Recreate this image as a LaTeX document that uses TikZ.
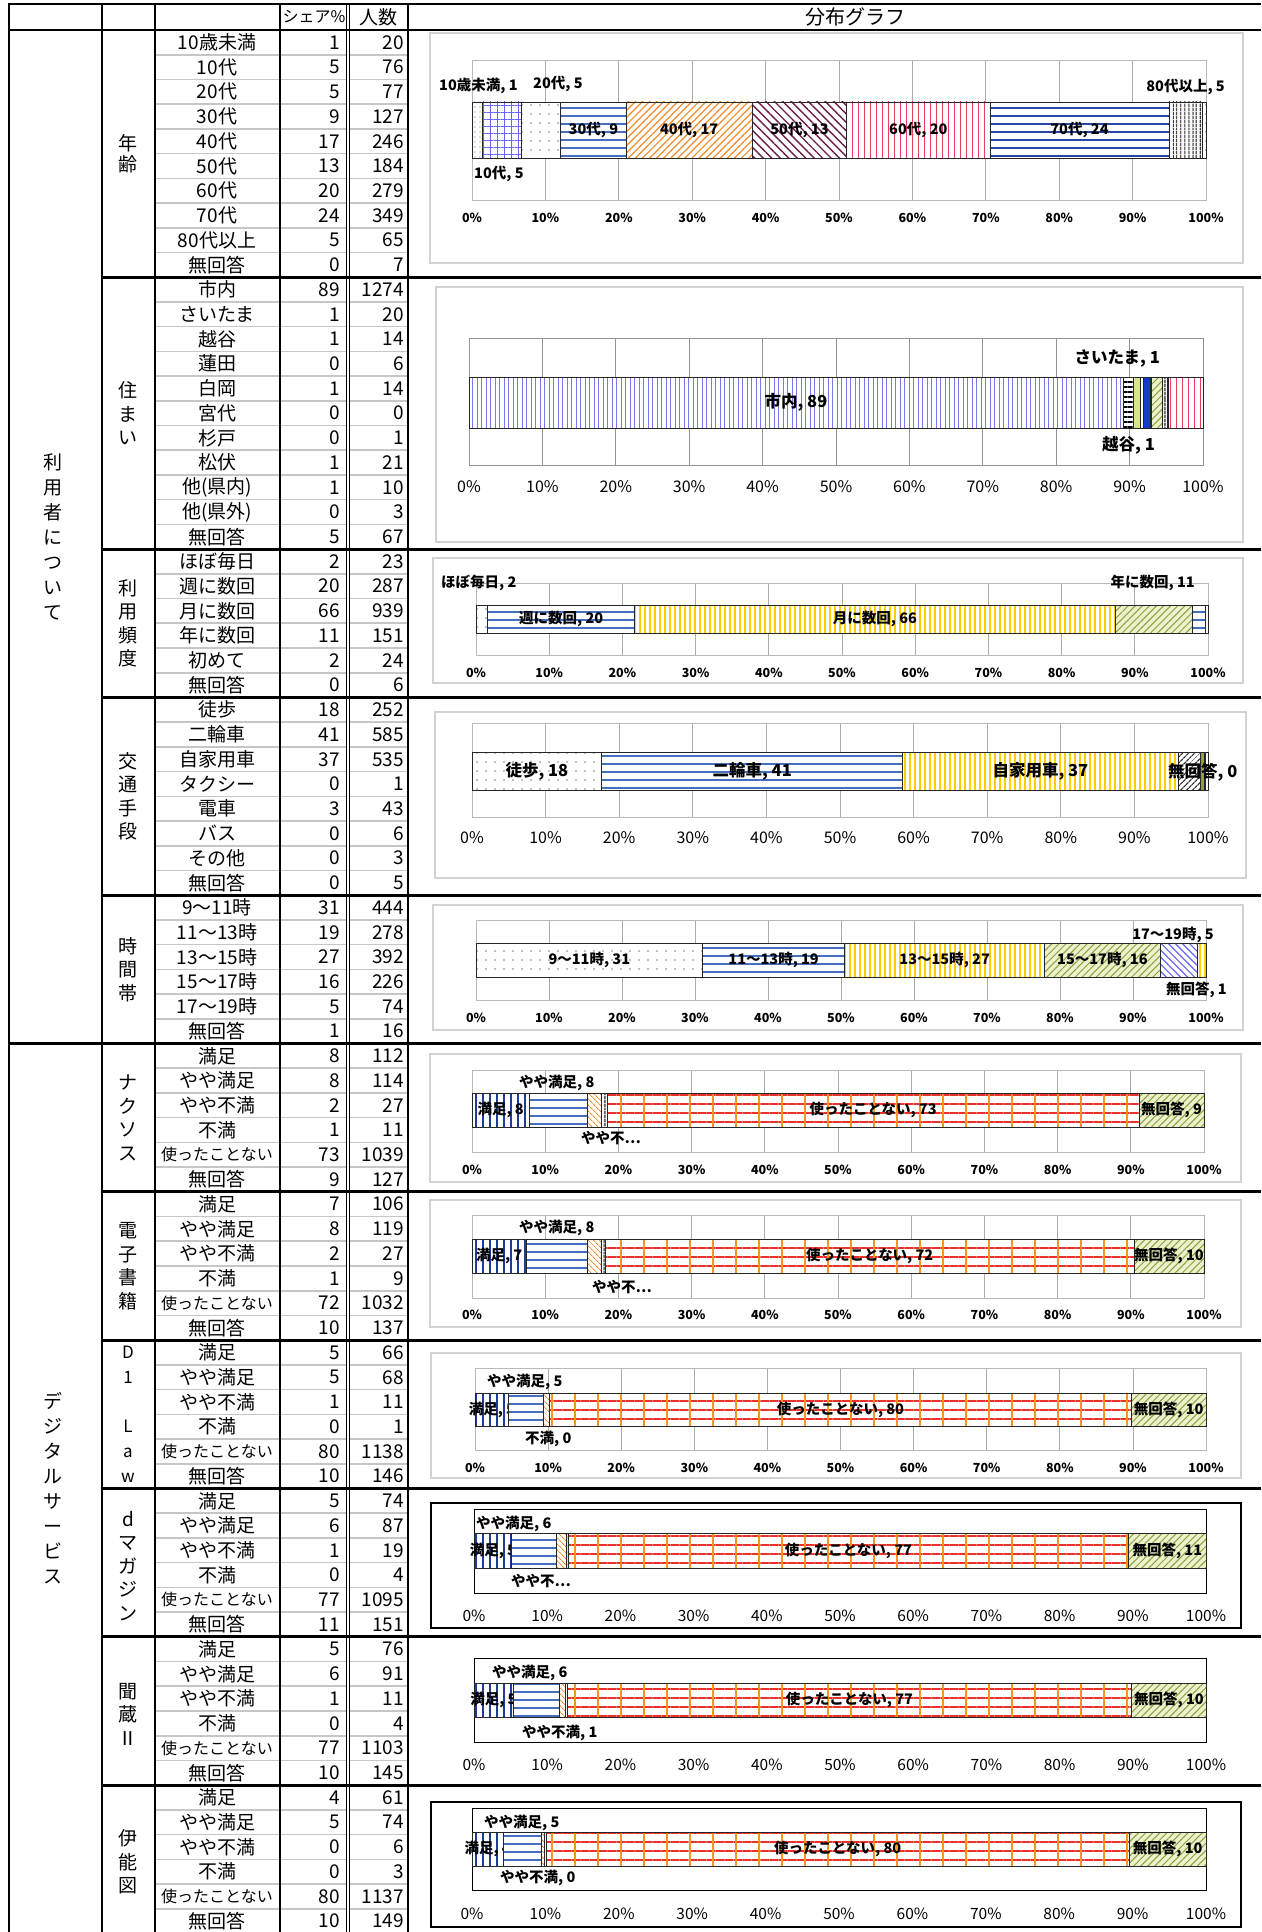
\documentclass[tikz,border=0pt]{standalone}
\usepackage{fontspec}
\newfontfamily\jp{Noto Sans CJK JP}
\usetikzlibrary{patterns.meta}

\definecolor{stripeblue}{RGB}{70,110,190}
\definecolor{deepblue}{RGB}{40,70,160}
\definecolor{navyline}{RGB}{30,60,150}
\definecolor{violetline}{RGB}{120,120,230}
\definecolor{roseline}{RGB}{235,60,90}
\definecolor{maroonline}{RGB}{110,30,70}
\definecolor{orangeline}{RGB}{240,140,40}
\definecolor{yellowline}{RGB}{255,205,0}
\definecolor{oliveline}{RGB}{140,160,60}
\definecolor{olivepale}{RGB}{236,240,205}
\definecolor{limepale}{RGB}{215,230,140}
\definecolor{solidblue}{RGB}{20,60,200}
\definecolor{gridred}{RGB}{235,50,40}
\definecolor{gridorange}{RGB}{250,150,30}

\newcommand{\squeezed}{\fontsize{16}{16}\selectfont}

\tikzset{
  rowline/.style={draw=gray!45, line width=1.6pt},
  thinline/.style={draw=black, line width=1.4pt},
  colline/.style={draw=black, line width=2.2pt},
  doubleline/.style={draw=black, double=white, double distance=1.4pt, line width=0.9pt},
  thickline/.style={draw=black, line width=2.8pt},
  celltext/.style={font=\jp\fontsize{19}{19}\selectfont, inner sep=0pt},
  numtext/.style={celltext, anchor=east},
  vlabel/.style={font=\jp\fontsize{19}{23.5}\selectfont, align=center, inner sep=0pt},
  light box/.style={draw=gray!35, line width=1.2pt},
  black box/.style={draw=black, line width=1.2pt},
  light grid/.style={draw=gray!65, line width=0.8pt},
  light frame/.style={draw=gray!55, line width=0.8pt},
  dark grid/.style={draw=gray!85, line width=0.9pt},
  dark frame/.style={draw=gray!85, line width=0.9pt},
  black grid/.style={draw=none},
  black frame/.style={draw=black, line width=1pt},
  tick small/.style={font=\jp\bfseries\fontsize{12.5}{12.5}\selectfont, inner sep=0pt},
  tick big/.style={font=\jp\fontsize{16}{16}\selectfont, inner sep=0pt},
  tick plain/.style={font=\jp\fontsize{15.5}{15.5}\selectfont, inner sep=0pt},
  bar small/.style={font=\jp\bfseries\fontsize{14.5}{14.5}\selectfont, inner sep=0pt},
  bar big/.style={font=\jp\bfseries\fontsize{16.5}{16.5}\selectfont, inner sep=0pt},
  % segment fills
  segline/.style={draw=black!85, line width=0.7pt, preaction={fill=white}},
  snone/.style={},
  sdots/.style={pattern={Dots[distance=9pt,radius=0.8pt]}, pattern color=gray},
  sbluedots/.style={pattern={Dots[distance=5pt,radius=0.7pt]}, pattern color=stripeblue},
  sbluegrid/.style={pattern={Hatch[distance=7pt,line width=0.7pt]}, pattern color=blue!60},
  sblueh/.style={pattern={Lines[angle=0,distance=8pt,line width=2pt]}, pattern color=stripeblue},
  sdeeph/.style={pattern={Lines[angle=0,distance=8pt,line width=2.6pt]}, pattern color=deepblue},
  sorange/.style={pattern={Lines[angle=45,distance=5pt,line width=1.2pt]}, pattern color=orangeline},
  smaroon/.style={pattern={Lines[angle=-45,distance=6pt,line width=1.4pt]}, pattern color=maroonline},
  srosev/.style={pattern={Lines[angle=90,distance=6pt,line width=1pt]}, pattern color=roseline},
  sblackv/.style={pattern={Lines[angle=90,distance=4pt,line width=1.2pt]}, pattern color=black},
  sviolet/.style={pattern={Lines[angle=90,distance=4.5pt,line width=0.8pt]}, pattern color=violetline},
  sbrick/.style={pattern={Lines[angle=0,distance=5pt,line width=1.5pt]}, pattern color=black},
  slime/.style={fill=limepale},
  ssolid/.style={fill=solidblue},
  sgreend/.style={preaction={fill=olivepale}, pattern={Lines[angle=45,distance=5pt,line width=1pt]}, pattern color=oliveline},
  sgreenv/.style={fill=oliveline},
  syellowv/.style={pattern={Lines[angle=90,distance=5pt,line width=1.5pt]}, pattern color=yellowline},
  sblackd/.style={pattern={Lines[angle=45,distance=4pt,line width=1.2pt]}, pattern color=black!80},
  sbluenw/.style={pattern={Lines[angle=-45,distance=5pt,line width=1.2pt]}, pattern color=blue!60},
  snavyv/.style={pattern={Lines[angle=90,distance=7pt,line width=1.5pt]}, pattern color=navyline},
  sorangenw/.style={pattern={Lines[angle=-45,distance=4pt,line width=1pt]}, pattern color=orangeline},
  snever/.style={preaction={pattern={Lines[angle=0,distance=9pt,line width=1.2pt]}, pattern color=gridred},
    pattern={Lines[angle=90,distance=23pt,line width=1.8pt]}, pattern color=gridorange},
}

% #1 left, #2 right, #3 top, #4 bottom, #5 tick y, #6 tick style, #7 grid set, #8 name
\newcommand{\plotarea}[8]{%
  \foreach \p in {1,...,9}
    \draw[#7 grid] ({#1+(#2-#1)*\p/10},#3) -- ({#1+(#2-#1)*\p/10},#4);
  \draw[#7 frame] (#1,#3) rectangle (#2,#4);
  \foreach \p in {0,...,10}{
    \pgfmathtruncatemacro{\pc}{10*\p}
    \node[#6] (#8-t\pc) at ({#1+(#2-#1)*\p/10},#5) {\pc\%};
  }
}

% #1 left, #2 right, #3 top, #4 bottom, #5 label style, #6 name, #7 from/to/fill/label
\newcommand{\stackbar}[7]{%
  \foreach \from/\upto/\fillsty/\seglab [count=\i] in {#7}{
    \draw[segline,\fillsty] ({#1+(#2-#1)*\from},#3) rectangle ({#1+(#2-#1)*\upto},#4);
    \node[#5] (#6-s\i) at ({#1+(#2-#1)*(\from+\upto)/2},{(#3+#4)/2}) {\seglab};
  }
}

% #1 first row, #2 label/share/count
\newcommand{\rowgroup}[2]{%
  \foreach \lab/\sh/\cnt [count=\rr from #1] in {#2}{
    \node[celltext] (lab\rr) at (217,{30+(\rr+0.5)*24.72}) {\lab};
    \node[numtext] (sh\rr) at (340,{30+(\rr+0.5)*24.72}) {\sh};
    \node[numtext] (cnt\rr) at (404,{30+(\rr+0.5)*24.72}) {\cnt};
  }
}

\begin{document}
\begin{tikzpicture}[x=1pt,y=-1pt]
\useasboundingbox (0,0) rectangle (1261,1932);
\fill[white] (0,0) rectangle (1261,1932);

% table rules
\foreach \rr in {1,...,76}
  \draw[rowline] (155,{30+\rr*24.72}) -- (408,{30+\rr*24.72});
\draw[colline] (9,4) -- (9,1932);
\draw[colline] (102,4) -- (102,1932);
\draw[thinline] (155,4) -- (155,1932);
\draw[thinline] (280,4) -- (280,1932);
\draw[doubleline] (348,4) -- (348,1932);
\draw[colline] (408,4) -- (408,1932);
\draw[thickline] (8,4) -- (1261,4);
\draw[thickline] (8,30) -- (1261,30);
\foreach \rr in {10,21,27,35,47,53,59,65,71}
  \draw[thickline] (101,{30+\rr*24.72}) -- (1261,{30+\rr*24.72});
\draw[thickline] (8,{30+41*24.72}) -- (1261,{30+41*24.72});

% header
\node[celltext, font=\jp\fontsize{16}{16}\selectfont] (hshare) at (314,17) {シェア\%};
\node[celltext] (hcount) at (378,17) {人数};
\node[celltext, font=\jp\fontsize{20}{20}\selectfont] (hgraph) at (855,17) {分布グラフ};

% left labels
\node[vlabel, font=\jp\fontsize{19}{25}\selectfont] (users) at (53,536.8) {利\\用\\者\\に\\つ\\い\\て};
\node[vlabel, font=\jp\fontsize{19}{25}\selectfont] (digital) at (53,1488.5) {デ\\ジ\\タ\\ル\\サ\\ー\\ビ\\ス};
\node[vlabel, font=\jp\fontsize{19}{21}\selectfont] (g-age) at (128,153.6) {年\\齢};
\node[vlabel] (g-home) at (128,413.2) {住\\ま\\い};
\node[vlabel] (g-freq) at (128,623.3) {利\\用\\頻\\度};
\node[vlabel] (g-move) at (128,796.3) {交\\通\\手\\段};
\node[vlabel] (g-time) at (128,969.4) {時\\間\\帯};
\node[vlabel] (g-naxos) at (128,1117.7) {ナ\\ク\\ソ\\ス};
\node[vlabel] (g-ebook) at (128,1266) {電\\子\\書\\籍};
\node[vlabel, font=\jp\fontsize{17}{24.72}\selectfont] (g-law) at (128,1414.3) {D\\1\\\mbox{}\\L\\a\\w};
\node[vlabel] (g-dmag) at (128,1566) {d\\マ\\ガ\\ジ\\ン};
\node[vlabel] (g-kikuzo) at (128,1714) {聞\\蔵\\Ⅱ};
\node[vlabel] (g-ino) at (128,1862) {伊\\能\\図};

% table cells
\rowgroup{0}{10歳未満/1/20, 10代/5/76, 20代/5/77, 30代/9/127, 40代/17/246, 50代/13/184, 60代/20/279, 70代/24/349, 80代以上/5/65, 無回答/0/7}
\rowgroup{10}{市内/89/1274, さいたま/1/20, 越谷/1/14, 蓮田/0/6, 白岡/1/14, 宮代/0/0, 杉戸/0/1, 松伏/1/21, 他(県内)/1/10, 他(県外)/0/3, 無回答/5/67}
\rowgroup{21}{ほぼ毎日/2/23, 週に数回/20/287, 月に数回/66/939, 年に数回/11/151, 初めて/2/24, 無回答/0/6}
\rowgroup{27}{徒歩/18/252, 二輪車/41/585, 自家用車/37/535, タクシー/0/1, 電車/3/43, バス/0/6, その他/0/3, 無回答/0/5}
\rowgroup{35}{9～11時/31/444, 11～13時/19/278, 13～15時/27/392, 15～17時/16/226, 17～19時/5/74, 無回答/1/16}
\rowgroup{41}{満足/8/112, やや満足/8/114, やや不満/2/27, 不満/1/11, {\squeezed 使ったことない}/73/1039, 無回答/9/127}
\rowgroup{47}{満足/7/106, やや満足/8/119, やや不満/2/27, 不満/1/9, {\squeezed 使ったことない}/72/1032, 無回答/10/137}
\rowgroup{53}{満足/5/66, やや満足/5/68, やや不満/1/11, 不満/0/1, {\squeezed 使ったことない}/80/1138, 無回答/10/146}
\rowgroup{59}{満足/5/74, やや満足/6/87, やや不満/1/19, 不満/0/4, {\squeezed 使ったことない}/77/1095, 無回答/11/151}
\rowgroup{65}{満足/5/76, やや満足/6/91, やや不満/1/11, 不満/0/4, {\squeezed 使ったことない}/77/1103, 無回答/10/145}
\rowgroup{71}{満足/4/61, やや満足/5/74, やや不満/0/6, 不満/0/3, {\squeezed 使ったことない}/80/1137, 無回答/10/149}

% age
\draw[light box] (430,33) rectangle (1243,263);
\plotarea{472}{1206}{60}{200}{218}{tick small}{light}{age}
\stackbar{472}{1206}{102}{158}{bar small}{age}{0/.0140/sbluedots/{}, .0140/.0671/sbluegrid/{}, .0671/.1210/sdots/{}, .1210/.2098/sblueh/{30代, 9}, .2098/.3818/sorange/{40代, 17}, .3818/.5105/smaroon/{50代, 13}, .5105/.7056/srosev/{60代, 20}, .7056/.9497/sdeeph/{70代, 24}, .9497/.9951/sblackv/{}, .9951/1/sdots/{}}
\node[bar small, anchor=west] (age-u1) at (439,86) {10歳未満, 1};
\node[bar small, anchor=west] (age-u2) at (533,84) {20代, 5};
\node[bar small, anchor=east] (age-u3) at (1225,87) {80代以上, 5};
\node[bar small, anchor=west] (age-d1) at (474,174) {10代, 5};

% residence
\draw[light box] (436,287) rectangle (1243,542);
\plotarea{469}{1203}{338}{465}{487}{tick big}{dark}{home}
\stackbar{469}{1203}{377}{428}{bar big}{home}{0/.8909/sviolet/{市内, 89}, .8909/.9049/sbrick/{}, .9049/.9147/slime/{}, .9147/.9189/snone/{}, .9189/.9287/ssolid/{}, .9287/.9294/snone/{}, .9294/.9441/sgreend/{}, .9441/.9510/sblackv/{}, .9510/.9531/snone/{}, .9531/1/srosev/{}}
\node[bar big, anchor=east] (home-u1) at (1160,359) {さいたま, 1};
\node[bar big, anchor=east] (home-d1) at (1155,445) {越谷, 1};

% frequency
\draw[light box] (433,558) rectangle (1243,683);
\plotarea{476}{1208}{583}{655}{673}{tick small}{light}{freq}
\stackbar{476}{1208}{605}{633}{bar small}{freq}{0/.0161/sdots/{}, .0161/.2168/sblueh/{週に数回, 20}, .2168/.8734/syellowv/{月に数回, 66}, .8734/.9790/sgreend/{}, .9790/.9958/sblueh/{}, .9958/1/snone/{}}
\node[bar small, anchor=west] (freq-u1) at (441,583) {ほぼ毎日, 2};
\node[bar small, anchor=east] (freq-u2) at (1195,583) {年に数回, 11};

% transport
\draw[light box] (435,712) rectangle (1246,878);
\plotarea{472}{1208}{723}{817}{838}{tick big}{light}{move}
\stackbar{472}{1208}{752}{790}{bar big}{move}{0/.1762/sdots/{徒歩, 18}, .1762/.5853/sblueh/{二輪車, 41}, .5853/.9594/syellowv/{自家用車, 37}, .9594/.9601/snone/{}, .9601/.9902/sblackd/{}, .9902/.9944/sgreenv/{}, .9944/.9965/snone/{}, .9965/1/snone/{}}
\node[bar big, anchor=west] (move-r1) at (1168,772) {無回答, 0};

% time
\draw[light box] (433,905) rectangle (1243,1030);
\plotarea{476}{1206}{920}{1000}{1018}{tick small}{light}{time}
\stackbar{476}{1206}{943}{977}{bar small}{time}{0/.3105/sdots/{9～11時, 31}, .3105/.5049/sblueh/{11～13時, 19}, .5049/.7790/syellowv/{13～15時, 27}, .7790/.9371/sgreend/{15～17時, 16}, .9371/.9888/sbluenw/{}, .9888/1/syellowv/{}}
\node[bar small, anchor=east] (time-u1) at (1214,935) {17～19時, 5};
\node[bar small, anchor=east] (time-d1) at (1227,990) {無回答, 1};

% naxos
\draw[light box] (430,1054) rectangle (1241,1182);
\plotarea{472}{1204}{1070}{1152}{1170}{tick small}{light}{naxos}
\stackbar{472}{1204}{1093}{1127}{bar small}{naxos}{0/.0783/snavyv/{満足, 8}, .0783/.1580/sblueh/{}, .1580/.1769/sorangenw/{}, .1769/.1846/sblackv/{}, .1846/.9112/snever/{使ったことない, 73}, .9112/1/sgreend/{無回答, 9}}
\node[bar small, anchor=west] (naxos-u1) at (519,1083) {やや満足, 8};
\node[bar small, anchor=west] (naxos-d1) at (581,1138) {やや不…};

% e-books
\draw[light box] (430,1200) rectangle (1241,1327);
\plotarea{472}{1204}{1215}{1298}{1315}{tick small}{light}{ebook}
\stackbar{472}{1204}{1239}{1273}{bar small}{ebook}{0/.0741/snavyv/{満足, 7}, .0741/.1573/sblueh/{}, .1573/.1762/sorangenw/{}, .1762/.1825/sblackv/{}, .1825/.9042/snever/{使ったことない, 72}, .9042/1/sgreend/{無回答, 10}}
\node[bar small, anchor=west] (ebook-u1) at (519,1228) {やや満足, 8};
\node[bar small, anchor=west] (ebook-d1) at (592,1287) {やや不…};

% D1-Law
\draw[light box] (431,1353) rectangle (1241,1478);
\plotarea{475}{1206}{1368}{1450}{1468}{tick small}{light}{law}
\stackbar{475}{1206}{1393}{1426}{bar small}{law}{0/.0462/snavyv/{満足, 5}, .0462/.0937/sblueh/{}, .0937/.1014/sorangenw/{}, .1014/.1021/sblackv/{}, .1021/.8979/snever/{使ったことない, 80}, .8979/1/sgreend/{無回答, 10}}
\node[bar small, anchor=west] (law-u1) at (487,1382) {やや満足, 5};
\node[bar small, anchor=west] (law-d1) at (525,1439) {不満, 0};

% d-magazine
\draw[black box] (431,1503) rectangle (1241,1628);
\plotarea{474}{1206}{1509}{1593}{1616}{tick plain}{black}{dmag}
\stackbar{474}{1206}{1533}{1568}{bar small}{dmag}{0/.0517/snavyv/{満足, 5}, .0517/.1126/sblueh/{}, .1126/.1259/sorangenw/{}, .1259/.1287/sblackv/{}, .1287/.8944/snever/{使ったことない, 77}, .8944/1/sgreend/{無回答, 11}}
\node[bar small, anchor=west] (dmag-u1) at (476,1524) {やや満足, 6};
\node[bar small, anchor=west] (dmag-d1) at (511,1581) {やや不…};

% kikuzo
\plotarea{474}{1206}{1658}{1742}{1765}{tick plain}{black}{kikuzo}
\stackbar{474}{1206}{1683}{1717}{bar small}{kikuzo}{0/.0531/snavyv/{満足, 5}, .0531/.1168/sblueh/{}, .1168/.1245/sorangenw/{}, .1245/.1273/sblackv/{}, .1273/.8986/snever/{使ったことない, 77}, .8986/1/sgreend/{無回答, 10}}
\node[bar small, anchor=west] (kikuzo-u1) at (492,1673) {やや満足, 6};
\node[bar small, anchor=west] (kikuzo-d1) at (522,1733) {やや不満, 1};

% ino
\draw[black box] (431,1802) rectangle (1241,1927);
\plotarea{472}{1206}{1808}{1890}{1914}{tick plain}{black}{ino}
\stackbar{472}{1206}{1832}{1866}{bar small}{ino}{0/.0427/snavyv/{満足, 4}, .0427/.0944/sblueh/{}, .0944/.0986/sorangenw/{}, .0986/.1007/sblackv/{}, .1007/.8958/snever/{使ったことない, 80}, .8958/1/sgreend/{無回答, 10}}
\node[bar small, anchor=west] (ino-u1) at (484,1823) {やや満足, 5};
\node[bar small, anchor=west] (ino-d1) at (500,1878) {やや不満, 0};
\end{tikzpicture}
\end{document}
